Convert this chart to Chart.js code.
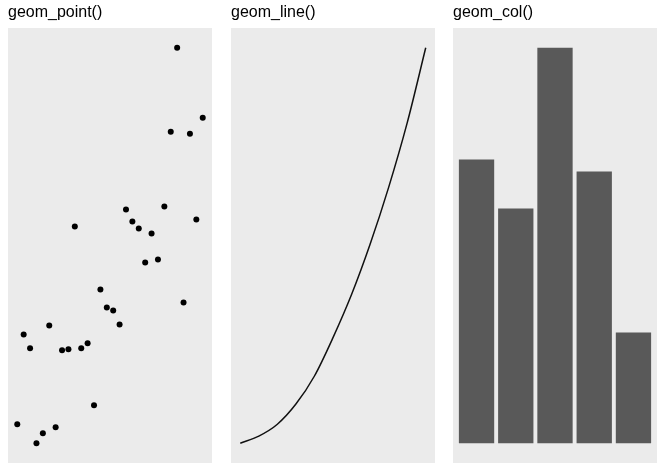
<!DOCTYPE html>
<html>
<head>
<meta charset="utf-8">
<title>geom panels</title>
<script src="https://cdn.jsdelivr.net/npm/chart.js@4/dist/chart.umd.min.js"></script>
<style>
  body { margin: 0; background: #ffffff; }
  .panel { position: absolute; top: 0; width: 204px; height: 463px; }
</style>
</head>
<body>
<div class="panel" style="left:8px"><canvas id="chart-1" width="204" height="463"></canvas></div>
<div class="panel" style="left:231px"><canvas id="chart-2" width="204" height="463"></canvas></div>
<div class="panel" style="left:453px"><canvas id="chart-3" width="204" height="463"></canvas></div>
<script>
/************************ data ************************************************/
const pointX = [1, 2, 3, 4, 5, 6, 7, 8, 9, 10, 11, 12, 13, 14, 15,
                16, 17, 18, 19, 20, 21, 22, 23, 24, 25, 26, 27, 28, 29, 30];
const pointY = [1.9, 10.9, 9.5, 0, 1.0, 11.8, 1.6, 9.3, 9.4, 21.7,
                9.5, 10.0, 3.8, 15.4, 13.6, 13.3, 11.9, 23.4, 22.2, 21.5,
                18.1, 21.0, 18.4, 23.7, 31.2, 39.6, 14.1, 31.0, 22.4, 32.6];

const lineX = [0, 1, 2, 3, 4, 5, 6, 7, 8, 9, 10];
const lineY = [0, 1.8, 4.8, 9.9, 17.0, 26.7, 37.6, 50.3, 64.7, 81.0, 100];

const colX = [1, 2, 3, 4, 5];
const colY = [28.4, 23.5, 39.6, 27.2, 11.1];

const titles = ["geom_point()", "geom_line()", "geom_col()"];

/************************* helpers ********************************************/
// ggplot style 5% expansion of a continuous range
function expand(values, includeZero) {
  let lo = Math.min(...values);
  let hi = Math.max(...values);
  if (includeZero) { lo = Math.min(lo, 0); hi = Math.max(hi, 0); }
  const pad = (hi - lo) * 0.05;
  return { min: lo - pad, max: hi + pad };
}

const panelBackground = {
  id: "panelBackground",
  beforeDraw(chart) {
    const a = chart.chartArea;
    const ctx = chart.ctx;
    ctx.save();
    ctx.fillStyle = "#ebebeb";
    ctx.fillRect(a.left, a.top, a.right - a.left, a.bottom - a.top);
    ctx.restore();
  }
};

function createOptions(title, xr, yr, extraX) {
  return {
    responsive: false,
    animation: false,
    layout: { padding: 0, autoPadding: false },
    plugins: {
      legend: { display: false },
      tooltip: { enabled: false },
      title: {
        display: true,
        text: title,
        align: "start",
        color: "#000000",
        font: { family: "'Liberation Sans', Arial, sans-serif", size: 16, weight: "normal" },
        padding: { top: 3, bottom: 5.8 }
      }
    },
    scales: {
      x: Object.assign({ type: "linear", display: false, offset: false, min: xr.min, max: xr.max }, extraX || {}),
      y: { type: "linear", display: false, min: yr.min, max: yr.max }
    }
  };
}

/************************* CHART INITIALIZATION ******************************/
const ctxA = document.getElementById("chart-1").getContext("2d");
const myChart1 = new Chart(ctxA, {
  type: "scatter",
  data: {
    datasets: [{
      data: pointX.map((x, i) => ({ x: x, y: pointY[i] })),
      backgroundColor: "#000000",
      borderWidth: 0,
      pointRadius: 3
    }]
  },
  options: createOptions(titles[0], expand(pointX), expand(pointY)),
  plugins: [panelBackground]
});

const ctxB = document.getElementById("chart-2").getContext("2d");
const myChart2 = new Chart(ctxB, {
  type: "line",
  data: {
    datasets: [{
      data: lineX.map((x, i) => ({ x: x, y: lineY[i] })),
      borderColor: "#111111",
      borderWidth: 1.5,
      pointRadius: 0,
      fill: false,
      cubicInterpolationMode: "monotone"
    }]
  },
  options: createOptions(titles[1], expand(lineX), expand(lineY)),
  plugins: [panelBackground]
});

const ctxC = document.getElementById("chart-3").getContext("2d");
const myChart3 = new Chart(ctxC, {
  type: "bar",
  data: {
    datasets: [{
      data: colX.map((x, i) => ({ x: x, y: colY[i] })),
      backgroundColor: "#595959",
      borderWidth: 0,
      barPercentage: 0.9,
      categoryPercentage: 1.0
    }]
  },
  // discrete scale: 0.6 units of padding on each side, ticks only at the bars
  options: createOptions(titles[2], { min: 0.4, max: 5.6 }, expand(colY, true), {
    afterBuildTicks: (axis) => { axis.ticks = colX.map(v => ({ value: v })); }
  }),
  plugins: [panelBackground]
});
</script>
</body>
</html>
